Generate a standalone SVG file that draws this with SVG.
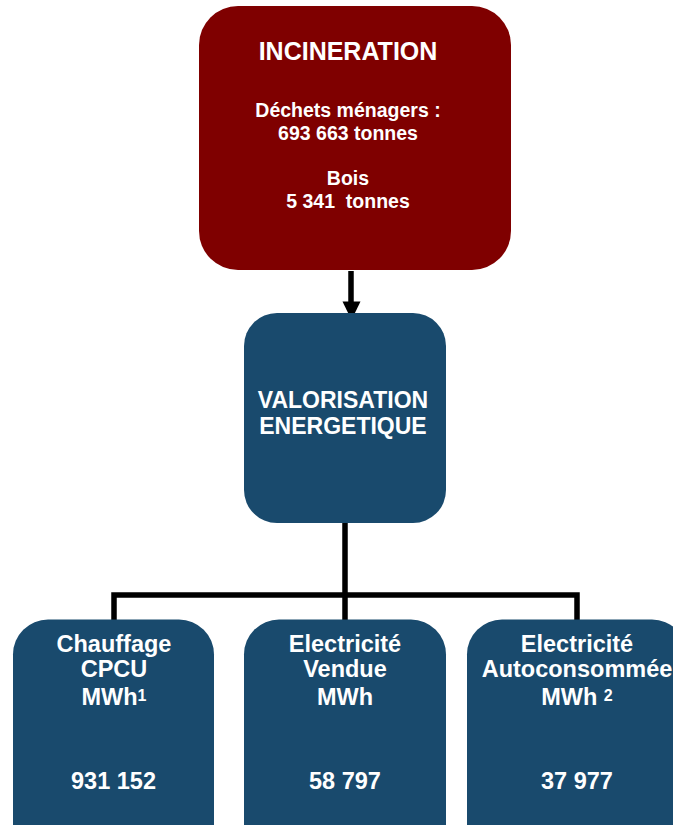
<svg xmlns="http://www.w3.org/2000/svg" width="673" height="825" viewBox="0 0 673 825">
<defs>
<style>
.t{font-family:"Liberation Sans",Arial,sans-serif;font-weight:bold;fill:#ffffff;text-anchor:middle}
.red{fill:#7f0000}
.blue{fill:#194a6d}
.ln{fill:none;stroke:#000000;stroke-width:5.5}
</style>
</defs>
<rect width="673" height="825" fill="#ffffff"/>
<g id="connectors">
<line class="ln" x1="351" y1="271" x2="351" y2="302"/>
<path d="M342.5,301.5 L360.5,301.5 L351.5,320 Z" fill="#000"/>
<path class="ln" d="M345,523 V595 M114,620 V595 H577 V620 M345,595 V620" stroke-linejoin="miter"/>
</g>
<g id="incineration">
<rect class="red" x="199" y="6" width="312" height="264" rx="39" ry="39"/>
<text class="t" x="348" y="60" font-size="25">INCINERATION</text>
<text class="t" x="348" y="116.5" font-size="19.5">Déchets ménagers :</text>
<text class="t" x="348" y="139.5" font-size="19.5">693 663 tonnes</text>
<text class="t" x="348" y="185" font-size="19.5">Bois</text>
<text class="t" x="348" y="208" font-size="19.5" xml:space="preserve">5 341  tonnes</text>
</g>
<g id="valorisation">
<rect class="blue" x="244" y="313" width="202" height="210" rx="33" ry="33"/>
<text class="t" x="343" y="408" font-size="23">VALORISATION</text>
<text class="t" x="343" y="434" font-size="23">ENERGETIQUE</text>
</g>
<g id="chauffage">
<rect class="blue" x="13" y="619.5" width="201" height="240" rx="35" ry="35"/>
<text class="t" x="114" y="651.5" font-size="23.5">Chauffage</text>
<text class="t" x="114" y="677" font-size="23.5">CPCU</text>
<text class="t" x="114" y="705" font-size="23.5">MWh<tspan font-size="16" dy="-4.5">1</tspan></text>
<text class="t" x="113.5" y="788.5" font-size="23.5">931 152</text>
</g>
<g id="electricite-vendue">
<rect class="blue" x="244" y="619.5" width="202" height="240" rx="35" ry="35"/>
<text class="t" x="345" y="651.5" font-size="23.5">Electricité</text>
<text class="t" x="345" y="677" font-size="23.5">Vendue</text>
<text class="t" x="345" y="705" font-size="23.5">MWh</text>
<text class="t" x="345" y="788.5" font-size="23.5">58 797</text>
</g>
<g id="electricite-autoconsommee">
<rect class="blue" x="467" y="619.5" width="220" height="240" rx="35" ry="35"/>
<text class="t" x="577" y="651.5" font-size="23.5">Electricité</text>
<text class="t" x="577" y="677" font-size="23.5">Autoconsommée</text>
<text class="t" x="577" y="705" font-size="23.5">MWh <tspan font-size="16" dy="-4.5">2</tspan></text>
<text class="t" x="577" y="788.5" font-size="23.5">37 977</text>
</g>
</svg>
